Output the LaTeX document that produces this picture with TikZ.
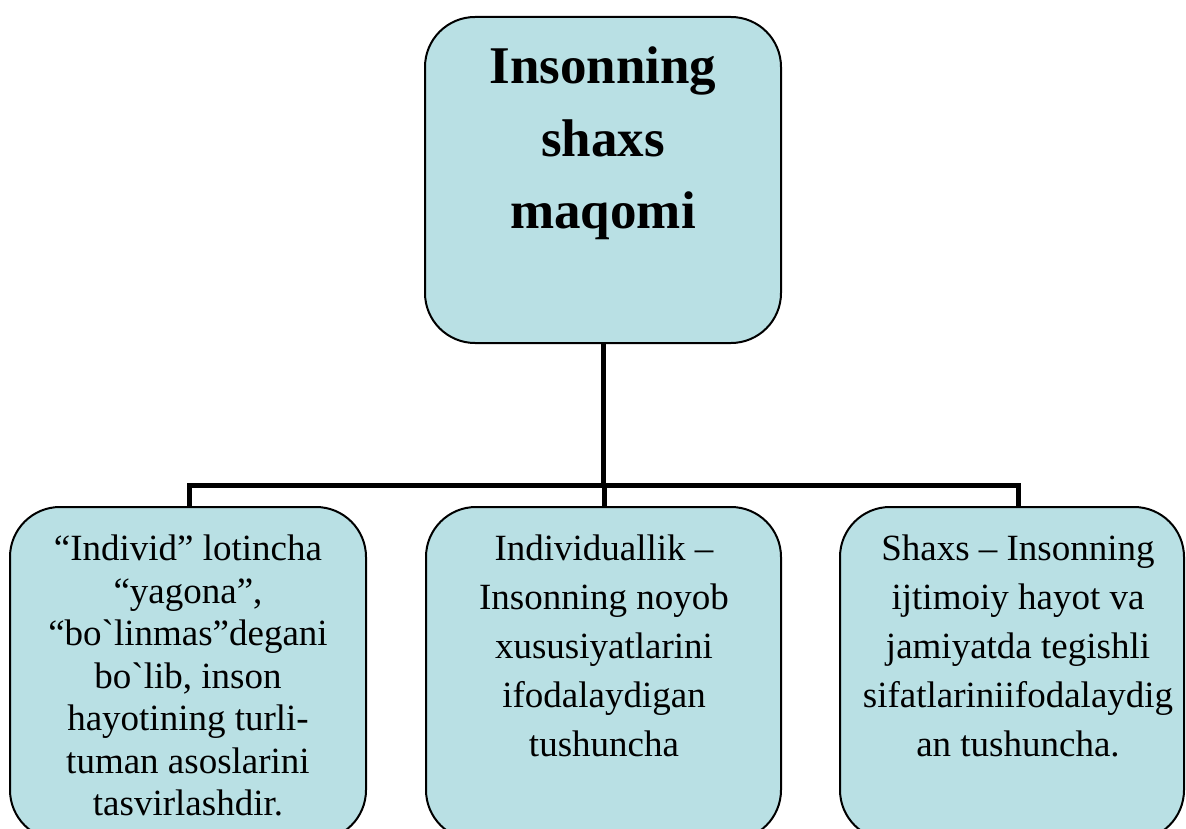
\documentclass[tikz,border=0pt]{standalone}
\usepackage{fontspec}
\newfontfamily\tnr{Liberation Serif}
\definecolor{boxfill}{RGB}{185,224,228}
\tikzset{
  box/.style={draw=black, line width=2pt, fill=boxfill, rounded corners=50pt,
              inner sep=0pt, shape=rectangle},
  title/.style={font=\tnr\bfseries\fontsize{53}{72.5}\selectfont, align=center,
                inner sep=0pt, anchor=north},
  txt/.style={font=\tnr\fontsize{37}{49}\selectfont, align=center,
              inner sep=0pt, anchor=north},
  txtL/.style={font=\tnr\fontsize{37}{42.5}\selectfont, align=center,
               inner sep=0pt, anchor=north},
  conn/.style={draw=black, line width=5pt, line join=miter},
}
\begin{document}
\begin{tikzpicture}[x=1pt,y=-1pt]
\clip (0,0) rectangle (1186,829);
\fill[white] (0,0) rectangle (1186,829);
% boxes
\node[box, minimum width=356pt, minimum height=326pt] (top) at (603,180) {};
\node[box, minimum width=356pt, minimum height=333pt] (L) at (188,673.5) {};
\node[box, minimum width=355pt, minimum height=333pt] (C) at (603.5,673.5) {};
\node[box, minimum width=344pt, minimum height=333pt] (R) at (1012,673.5) {};
% texts
\node[title] (topt) at (603,47) {Insonning\\shaxs\\maqomi};
\node[txtL] (Lt) at (188,535) {“Individ” lotincha\\“yagona”,\\“bo`linmas”degani\\bo`lib, inson\\hayotining turli-\\tuman asoslarini\\tasvirlashdir.};
\node[txt] (Ct) at (604,535) {Individuallik –\\Insonning noyob\\xususiyatlarini\\ifodalaydigan\\tushuncha};
\node[txt] (Rt) at (1018,535) {Shaxs – Insonning\\ijtimoiy hayot va\\jamiyatda tegishli\\sifatlariniifodalaydig\\an tushuncha.};
% connectors
\coordinate (bar) at (603,485);
\coordinate (dL) at ([xshift=1pt]L.north);
\coordinate (dC) at ([xshift=0.5pt]C.north);
\coordinate (dR) at ([xshift=6pt]R.north);
\draw[conn] (top.south) -- (top.south |- bar);
\draw[conn] (dL) -- (dL |- bar) -- (dR |- bar) -- (dR);
\draw[conn] (dC |- bar) -- (dC);
\end{tikzpicture}
\end{document}
